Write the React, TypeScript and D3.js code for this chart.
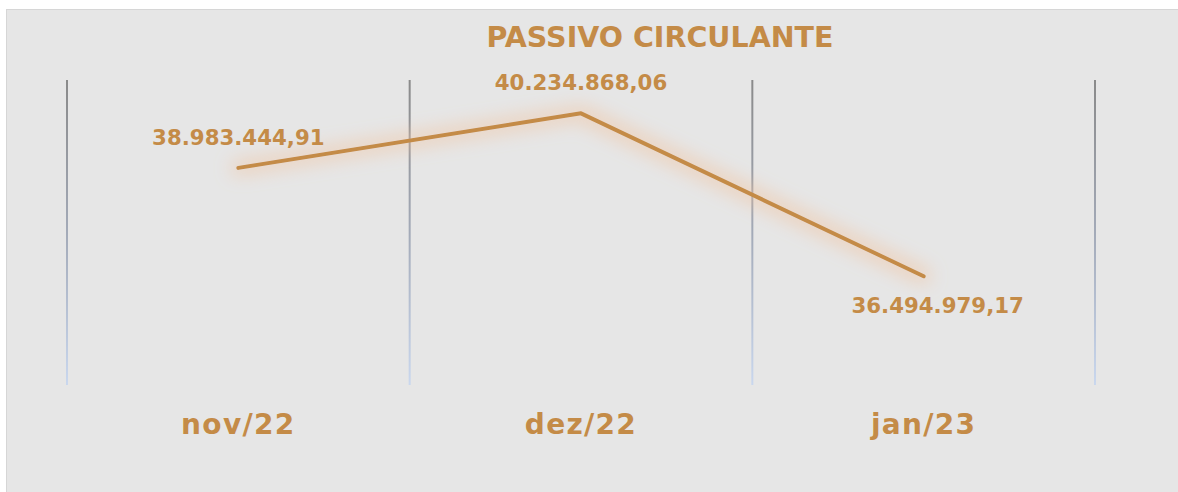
import { useEffect, useRef } from "react";
import * as d3 from "d3";

const categories = ["nov/22", "dez/22", "jan/23"];
const values = [38983444.91, 40234868.06, 36494979.17];
const valueLabels = ["38.983.444,91", "40.234.868,06", "36.494.979,17"];
const title = "PASSIVO CIRCULANTE";

const W = 1178;
const H = 492;
const PLOT = { left: 67, right: 1095, top: 80, bottom: 385 };
const GOLD = "#c48b47";
const FONT = "'DejaVu Sans', Verdana, sans-serif";

export default function App() {
  const svgRef = useRef<SVGSVGElement>(null);

  useEffect(() => {
    if (!svgRef.current) return;
    const svg = d3.select(svgRef.current);
    svg.selectAll("*").remove();

    const defs = svg.append("defs");

    // grid line gradient: gray at top fading to pale blue
    const grad = defs
      .append("linearGradient")
      .attr("id", "gridGrad")
      .attr("gradientUnits", "userSpaceOnUse")
      .attr("x1", 0)
      .attr("y1", PLOT.top)
      .attr("x2", 0)
      .attr("y2", PLOT.bottom);
    grad.append("stop").attr("offset", "0%").attr("stop-color", "#8a8a8a");
    grad.append("stop").attr("offset", "50%").attr("stop-color", "#a3aab8");
    grad.append("stop").attr("offset", "100%").attr("stop-color", "#c9d7ee");

    // soft, wide peach glow behind the line
    const glow = defs
      .append("filter")
      .attr("id", "glow")
      .attr("x", "-20%")
      .attr("y", "-80%")
      .attr("width", "140%")
      .attr("height", "260%");
    glow
      .append("feMorphology")
      .attr("in", "SourceAlpha")
      .attr("operator", "dilate")
      .attr("radius", 5)
      .attr("result", "thick");
    glow
      .append("feGaussianBlur")
      .attr("in", "thick")
      .attr("stdDeviation", 9)
      .attr("result", "blur");
    glow
      .append("feFlood")
      .attr("flood-color", "#f2bf97")
      .attr("flood-opacity", 0.5);
    glow.append("feComposite").attr("in2", "blur").attr("operator", "in").attr("result", "shadow");
    const merge = glow.append("feMerge");
    merge.append("feMergeNode").attr("in", "shadow");
    merge.append("feMergeNode").attr("in", "SourceGraphic");

    // background + border
    svg.append("rect").attr("width", W).attr("height", H).attr("fill", "#ffffff");
    svg
      .append("rect")
      .attr("x", 6.5)
      .attr("y", 9.5)
      .attr("width", W - 6)
      .attr("height", H - 9)
      .attr("fill", "#e6e6e6")
      .attr("stroke", "#d6d6d6")
      .attr("stroke-width", 1);

    const x = d3
      .scaleBand<string>()
      .domain(categories)
      .range([PLOT.left, PLOT.right])
      .padding(0);
    const y = d3
      .scaleLinear()
      .domain([34000000, 41000000])
      .range([PLOT.bottom, PLOT.top]);

    // vertical grid lines at band edges
    const edges = [...categories.map((c) => x(c)!), PLOT.right];
    svg
      .append("g")
      .selectAll("rect")
      .data(edges)
      .join("rect")
      .attr("x", (d) => d - 1)
      .attr("y", PLOT.top)
      .attr("width", 2)
      .attr("height", PLOT.bottom - PLOT.top)
      .attr("fill", "url(#gridGrad)");

    const cx = (c: string) => x(c)! + x.bandwidth() / 2;
    const pts = categories.map((c, i) => ({ c, v: values[i] }));

    const line = d3
      .line<{ c: string; v: number }>()
      .x((d) => cx(d.c))
      .y((d) => y(d.v));

    svg
      .append("path")
      .datum(pts)
      .attr("d", line)
      .attr("fill", "none")
      .attr("stroke", GOLD)
      .attr("stroke-width", 4)
      .attr("stroke-linecap", "round")
      .attr("stroke-linejoin", "round")
      .attr("filter", "url(#glow)");

    // data labels
    const labelOffsets = [
      { dx: 0, dy: -23 },
      { dx: 0, dy: -23 },
      { dx: 14, dy: 37 },
    ];
    svg
      .append("g")
      .selectAll("text")
      .data(pts)
      .join("text")
      .attr("x", (d, i) => cx(d.c) + labelOffsets[i].dx)
      .attr("y", (d, i) => y(d.v) + labelOffsets[i].dy)
      .attr("text-anchor", "middle")
      .attr("font-family", FONT)
      .attr("font-weight", "bold")
      .attr("font-size", 21.3)
      .attr("fill", GOLD)
      .text((_, i) => valueLabels[i]);

    // category labels
    svg
      .append("g")
      .selectAll("text")
      .data(categories)
      .join("text")
      .attr("x", (c) => cx(c))
      .attr("y", 434)
      .attr("text-anchor", "middle")
      .attr("font-family", FONT)
      .attr("font-weight", "bold")
      .attr("font-size", 28)
      .attr("letter-spacing", 1.3)
      .attr("fill", GOLD)
      .text((c) => c);

    // title
    svg
      .append("text")
      .attr("x", 660)
      .attr("y", 47)
      .attr("text-anchor", "middle")
      .attr("font-family", FONT)
      .attr("font-weight", "bold")
      .attr("font-size", 28.5)
      .attr("fill", GOLD)
      .text(title);
  }, []);

  return (
    <svg
      ref={svgRef}
      width={W}
      height={H}
      style={{ position: "fixed", left: 0, top: 0, display: "block" }}
    />
  );
}
